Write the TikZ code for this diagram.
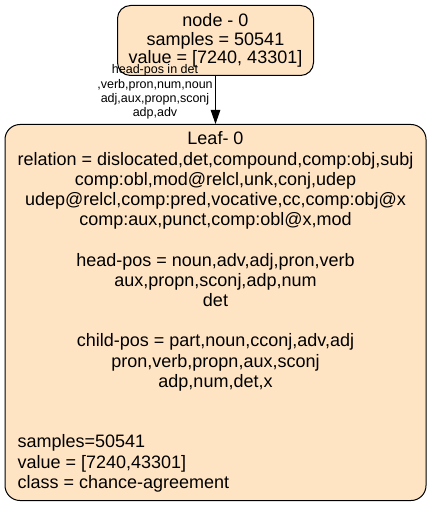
\documentclass[tikz,border=0pt]{standalone}
\usepackage{fontspec}
\setmainfont{Liberation Sans}
\usetikzlibrary{arrows.meta,positioning}
\definecolor{nodebg}{HTML}{FFE4C4}
\tikzset{
  >={Triangle[length=14pt,width=9.5pt]},
  block/.style={draw,rounded corners=13pt,fill=nodebg,align=center,inner sep=0pt,line width=1pt,font=\fontsize{18}{18.25}\selectfont},
  arrow/.style={->,line width=1pt},
  edgelbl/.style={align=center,inner sep=0pt,font=\fontsize{12.5}{14.2}\selectfont},
}
\begin{document}
\begin{tikzpicture}[x=1pt,y=-1pt]
			\useasboundingbox (0,0) rectangle (431,505);
			\node[block,minimum width=196pt,minimum height=70pt] (root) at (215.5,40.5) {node - 0\\samples = 50541\\value = [7240, 43301]};
			\node[block,minimum width=421pt,minimum height=376pt,rounded corners=15pt,below=48pt of root,font=\fontsize{18}{20.2}\selectfont] (leaf) {%
				\begin{tabular}{@{}c@{}}
					Leaf- 0\\
					relation = dislocated,det,compound,comp:obj,subj\\
					comp:obl,mod@relcl,unk,conj,udep\\
					udep@relcl,comp:pred,vocative,cc,comp:obj@x\\
					comp:aux,punct,comp:obl@x,mod\\
					\\
					head-pos = noun,adv,adj,pron,verb\\
					aux,propn,sconj,adp,num\\
					det\\
					\\
					child-pos = part,noun,cconj,adv,adj\\
					pron,verb,propn,aux,sconj\\
					adp,num,det,x\\
					\\
					\\
					\multicolumn{1}{@{}l@{}}{samples=50541}\\
					\multicolumn{1}{@{}l@{}}{value = [7240,43301]}\\
					\multicolumn{1}{@{}l@{}}{class = chance-agreement}
				\end{tabular}};
			\draw[arrow] (root) -- (leaf);
			\node[edgelbl] (split) at (155,92) {head-pos in det\\,verb,pron,num,noun\\adj,aux,propn,sconj\\adp,adv};
		\end{tikzpicture}
\end{document}
